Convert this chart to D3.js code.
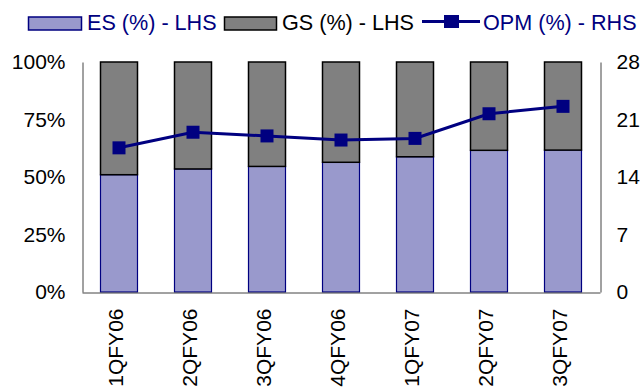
<!DOCTYPE html>
<html>
<head>
<meta charset="utf-8">
<script src="https://cdn.jsdelivr.net/npm/d3@7"></script>
<style>
  html, body { margin: 0; padding: 0; background: #fff; }
  svg { display: block; font-family: "Liberation Sans", Arial, sans-serif; }
</style>
</head>
<body>
<svg id="chart" width="642" height="387"></svg>
<script>
// Quarterly revenue mix (ES / GS share, %) and operating margin (OPM, %)
const quarters = ["1QFY06", "2QFY06", "3QFY06", "4QFY06", "1QFY07", "2QFY07", "3QFY07"];
const esShare = [51.0, 53.5, 54.6, 56.4, 58.8, 61.6, 61.7];
const gsShare = esShare.map(v => 100 - v);
const opm = [17.55, 19.45, 19.0, 18.5, 18.7, 21.7, 22.6];
const leftTicks = [0, 25, 50, 75, 100];
const rightTicks = [0, 7, 14, 21, 28];

const navy = "#000080";
const svg = d3.select("#chart");

const x = d3.scaleBand().domain(quarters).range([82, 600])
  .paddingInner(0.5).paddingOuter(0.25);
const yL = d3.scaleLinear().domain([0, 100]).range([292, 62]);
const yR = d3.scaleLinear().domain([0, 28]).range([292, 62]);

// Stacked bars: ES at the bottom, GS on top
const g = svg.append("g");
g.selectAll("rect.es").data(quarters).join("rect")
  .attr("class", "es")
  .attr("x", d => x(d))
  .attr("width", x.bandwidth())
  .attr("y", (d, i) => yL(esShare[i]))
  .attr("height", (d, i) => yL(0) - yL(esShare[i]))
  .attr("fill", "#9999CC")
  .attr("stroke", navy)
  .attr("stroke-width", 1.2);

g.selectAll("rect.gs").data(quarters).join("rect")
  .attr("class", "gs")
  .attr("x", d => x(d))
  .attr("width", x.bandwidth())
  .attr("y", (d, i) => yL(esShare[i] + gsShare[i]))
  .attr("height", (d, i) => yL(esShare[i]) - yL(esShare[i] + gsShare[i]))
  .attr("fill", "#808080")
  .attr("stroke", "#000")
  .attr("stroke-width", 1.5);

// Axes (lines only, no tick marks)
const axisL = d3.axisLeft(yL).tickValues(leftTicks).tickFormat(d => d + "%").tickSize(0).tickPadding(17);
const axisR = d3.axisRight(yR).tickValues(rightTicks).tickFormat(d3.format("d")).tickSize(0).tickPadding(16);
const axisB = d3.axisBottom(x).tickSize(0).tickPadding(0);

function styleAxis(sel) {
  sel.attr("font-size", 21).attr("font-family", "'Liberation Sans', Arial, sans-serif");
  sel.select(".domain").attr("stroke", "#444").attr("stroke-width", 1);
  sel.selectAll("text").attr("fill", "#000");
}

svg.append("g").attr("transform", "translate(82.5,0)").call(axisL).call(styleAxis);
svg.append("g").attr("transform", "translate(600.5,0)").call(axisR).call(styleAxis);
const gb = svg.append("g").attr("transform", "translate(0,292.5)").call(axisB).call(styleAxis);
gb.selectAll(".tick text")
  .attr("transform", "rotate(-90)")
  .attr("text-anchor", "end")
  .attr("x", -16)
  .attr("y", -3)
  .attr("dy", "0.35em");

// OPM line on the right-hand scale
const cx = d => x(d) + x.bandwidth() / 2;
const line = d3.line().x((d, i) => cx(quarters[i])).y(d => yR(d));
svg.append("path").datum(opm)
  .attr("d", line)
  .attr("fill", "none")
  .attr("stroke", navy)
  .attr("stroke-width", 3);
const ms = 13;
svg.selectAll("rect.opm").data(opm).join("rect")
  .attr("class", "opm")
  .attr("x", (d, i) => cx(quarters[i]) - ms / 2)
  .attr("y", d => yR(d) - ms / 2)
  .attr("width", ms)
  .attr("height", ms)
  .attr("fill", navy);

// Legend
const lg = svg.append("g").attr("font-size", 21.6);
lg.append("rect").attr("x", 28.5).attr("y", 17).attr("width", 53).attr("height", 13)
  .attr("fill", "#9999CC").attr("stroke", navy).attr("stroke-width", 1.5);
lg.append("text").attr("x", 87).attr("y", 30).attr("fill", navy).text("ES (%) - LHS");
lg.append("rect").attr("x", 224.5).attr("y", 17).attr("width", 52).attr("height", 13)
  .attr("fill", "#808080").attr("stroke", "#000").attr("stroke-width", 1.5);
lg.append("text").attr("x", 282).attr("y", 30).attr("fill", "#000").text("GS (%) - LHS");
lg.append("line").attr("x1", 422).attr("x2", 480).attr("y1", 21.5).attr("y2", 21.5)
  .attr("stroke", navy).attr("stroke-width", 3);
lg.append("rect").attr("x", 444).attr("y", 15).attr("width", 15).attr("height", 13).attr("fill", navy);
lg.append("text").attr("x", 483).attr("y", 30).attr("fill", navy).text("OPM (%) - RHS");
</script>
</body>
</html>
